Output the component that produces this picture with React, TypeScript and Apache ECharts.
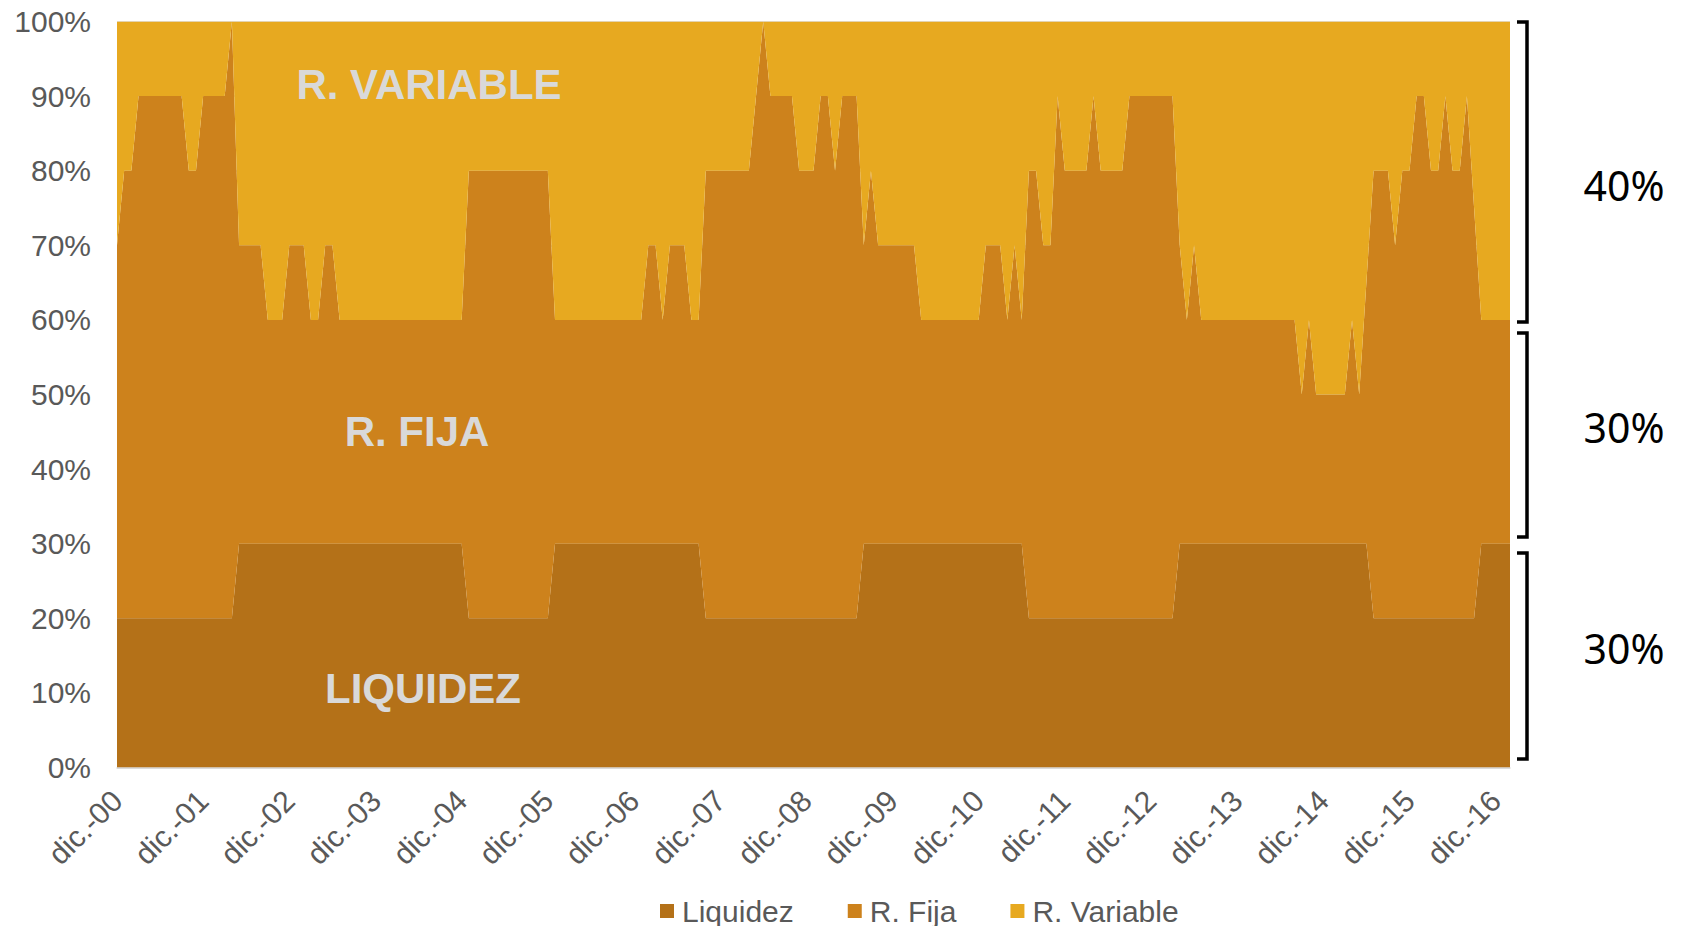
import React, { useEffect, useRef } from "react";
import * as echarts from "echarts";

// Month abbreviations (Spanish) used for the monthly category axis (dic.-00 ... feb.-17)
const monthNames = ["ene.", "feb.", "mar.", "abr.", "may.", "jun.", "jul.", "ago.", "sept.", "oct.", "nov.", "dic."];
const startYear = 2000;
const startMonth = 11; // diciembre
const pointCount = 195;

// Values in percent, one per month, starting dic.-00
const liquidez = [
  20, 20, 20, 20, 20, 20, 20, 20, 20, 20, 20, 20,
  20, 20, 20, 20, 20, 30, 30, 30, 30, 30, 30, 30,
  30, 30, 30, 30, 30, 30, 30, 30, 30, 30, 30, 30,
  30, 30, 30, 30, 30, 30, 30, 30, 30, 30, 30, 30,
  30, 20, 20, 20, 20, 20, 20, 20, 20, 20, 20, 20,
  20, 30, 30, 30, 30, 30, 30, 30, 30, 30, 30, 30,
  30, 30, 30, 30, 30, 30, 30, 30, 30, 30, 20, 20,
  20, 20, 20, 20, 20, 20, 20, 20, 20, 20, 20, 20,
  20, 20, 20, 20, 20, 20, 20, 20, 30, 30, 30, 30,
  30, 30, 30, 30, 30, 30, 30, 30, 30, 30, 30, 30,
  30, 30, 30, 30, 30, 30, 30, 20, 20, 20, 20, 20,
  20, 20, 20, 20, 20, 20, 20, 20, 20, 20, 20, 20,
  20, 20, 20, 20, 30, 30, 30, 30, 30, 30, 30, 30,
  30, 30, 30, 30, 30, 30, 30, 30, 30, 30, 30, 30,
  30, 30, 30, 30, 30, 30, 30, 20, 20, 20, 20, 20,
  20, 20, 20, 20, 20, 20, 20, 20, 20, 20, 30, 30,
  30, 30, 30,
];

const rFija = [
  50, 60, 60, 70, 70, 70, 70, 70, 70, 70, 60, 60,
  70, 70, 70, 70, 80, 40, 40, 40, 40, 30, 30, 30,
  40, 40, 40, 30, 30, 40, 40, 30, 30, 30, 30, 30,
  30, 30, 30, 30, 30, 30, 30, 30, 30, 30, 30, 30,
  30, 60, 60, 60, 60, 60, 60, 60, 60, 60, 60, 60,
  60, 30, 30, 30, 30, 30, 30, 30, 30, 30, 30, 30,
  30, 30, 40, 40, 30, 40, 40, 40, 30, 30, 60, 60,
  60, 60, 60, 60, 60, 70, 80, 70, 70, 70, 70, 60,
  60, 60, 70, 70, 60, 70, 70, 70, 40, 50, 40, 40,
  40, 40, 40, 40, 30, 30, 30, 30, 30, 30, 30, 30,
  30, 40, 40, 40, 30, 40, 30, 60, 60, 50, 50, 70,
  60, 60, 60, 60, 70, 60, 60, 60, 60, 70, 70, 70,
  70, 70, 70, 70, 40, 30, 40, 30, 30, 30, 30, 30,
  30, 30, 30, 30, 30, 30, 30, 30, 30, 20, 30, 20,
  20, 20, 20, 20, 30, 20, 35, 60, 60, 60, 50, 60,
  60, 70, 70, 60, 60, 70, 60, 60, 70, 55, 30, 30,
  30, 30, 30,
];

const rVariable = [
  30, 20, 20, 10, 10, 10, 10, 10, 10, 10, 20, 20,
  10, 10, 10, 10, 0, 30, 30, 30, 30, 40, 40, 40,
  30, 30, 30, 40, 40, 30, 30, 40, 40, 40, 40, 40,
  40, 40, 40, 40, 40, 40, 40, 40, 40, 40, 40, 40,
  40, 20, 20, 20, 20, 20, 20, 20, 20, 20, 20, 20,
  20, 40, 40, 40, 40, 40, 40, 40, 40, 40, 40, 40,
  40, 40, 30, 30, 40, 30, 30, 30, 40, 40, 20, 20,
  20, 20, 20, 20, 20, 10, 0, 10, 10, 10, 10, 20,
  20, 20, 10, 10, 20, 10, 10, 10, 30, 20, 30, 30,
  30, 30, 30, 30, 40, 40, 40, 40, 40, 40, 40, 40,
  40, 30, 30, 30, 40, 30, 40, 20, 20, 30, 30, 10,
  20, 20, 20, 20, 10, 20, 20, 20, 20, 10, 10, 10,
  10, 10, 10, 10, 30, 40, 30, 40, 40, 40, 40, 40,
  40, 40, 40, 40, 40, 40, 40, 40, 40, 50, 40, 50,
  50, 50, 50, 50, 40, 50, 35, 20, 20, 20, 30, 20,
  20, 10, 10, 20, 20, 10, 20, 20, 10, 25, 40, 40,
  40, 40, 40,
];

const seriesNames = ["Liquidez", "R. Fija", "R. Variable"];
const seriesColors = ["#B47118", "#CD821C", "#E7A920"];
const areaLabels = ["LIQUIDEZ", "R. FIJA", "R. VARIABLE"];
const bracketLabels = ["40%", "30%", "30%"];

function buildCategories(): string[] {
  const out: string[] = [];
  for (let i = 0; i < pointCount; i++) {
    const m = (startMonth + i) % 12;
    const y = startYear + Math.floor((startMonth + i) / 12);
    out.push(monthNames[m] + "-" + String(y % 100).padStart(2, "0"));
  }
  return out;
}

export default function App() {
  const ref = useRef<HTMLDivElement>(null);
  useEffect(() => {
    if (!ref.current) return;
    const chart = echarts.init(ref.current, undefined, { renderer: "svg" });
    const categories = buildCategories();
    const values = [liquidez, rFija, rVariable];
    const font = "'Liberation Sans', Arial, sans-serif";
    const bigFont = "bold 42px 'Liberation Sans', Arial, sans-serif";
    const pctFont = "41px 'Noto Sans', sans-serif";
    const bracket = (y1: number, y2: number) => ({
      type: "polyline",
      shape: { points: [[1517, y1], [1527, y1], [1527, y2], [1517, y2]] },
      style: { stroke: "#000", lineWidth: 3.5, fill: null },
      z: 100,
    });
    const txt = (text: string, x: number, y: number, f: string, fill: string) => ({
      type: "text",
      x,
      y,
      style: { text, fill, font: f, textAlign: "center", textVerticalAlign: "middle" },
      z: 100,
    });
    chart.setOption({
      animation: false,
      grid: { left: 117, right: 173, top: 21.5, bottom: 158.5, containLabel: false },
      legend: {
        data: seriesNames,
        left: 655,
        top: 891,
        icon: "rect",
        itemWidth: 14,
        itemHeight: 14,
        itemGap: 54,
        textStyle: { color: "#595959", fontSize: 30, fontFamily: font, padding: [0, 0, 0, 3] },
      },
      xAxis: {
        type: "category",
        data: categories,
        boundaryGap: false,
        axisLine: { show: true, lineStyle: { color: "#D9D9D9", width: 1.5 } },
        axisTick: { show: false },
        axisLabel: {
          interval: 11,
          rotate: 45,
          margin: 28,
          color: "#595959",
          fontSize: 30,
          fontFamily: font,
        },
        splitLine: { show: false },
      },
      yAxis: {
        type: "value",
        min: 0,
        max: 100,
        interval: 10,
        axisLine: { show: false },
        axisTick: { show: false },
        axisLabel: { formatter: "{value}%", color: "#595959", fontSize: 30, fontFamily: font, margin: 26 },
        splitLine: { show: true, lineStyle: { color: "#D9D9D9", width: 1.5 } },
      },
      series: seriesNames.map((name, k) => ({
        name,
        type: "line",
        stack: "total",
        data: values[k],
        symbol: "none",
        showSymbol: false,
        color: seriesColors[k],
        lineStyle: { width: 0 },
        areaStyle: { color: seriesColors[k], opacity: 1 },
        itemStyle: { color: seriesColors[k] },
      })),
      graphic: [
        txt(areaLabels[2], 429, 84, bigFont, "#D9D9D9"),
        txt(areaLabels[1], 417, 431, bigFont, "#D9D9D9"),
        txt(areaLabels[0], 423, 688, bigFont, "#D9D9D9"),
        bracket(22, 322),
        bracket(333, 537),
        bracket(553, 759),
        txt(bracketLabels[0], 1624, 185, pctFont, "#000"),
        txt(bracketLabels[1], 1624, 427, pctFont, "#000"),
        txt(bracketLabels[2], 1624, 648, pctFont, "#000"),
      ],
    });
    return () => chart.dispose();
  }, []);
  return (
    <div
      ref={ref}
      style={{ position: "fixed", left: 0, top: 0, width: 1683, height: 926, background: "#fff" }}
    />
  );
}
